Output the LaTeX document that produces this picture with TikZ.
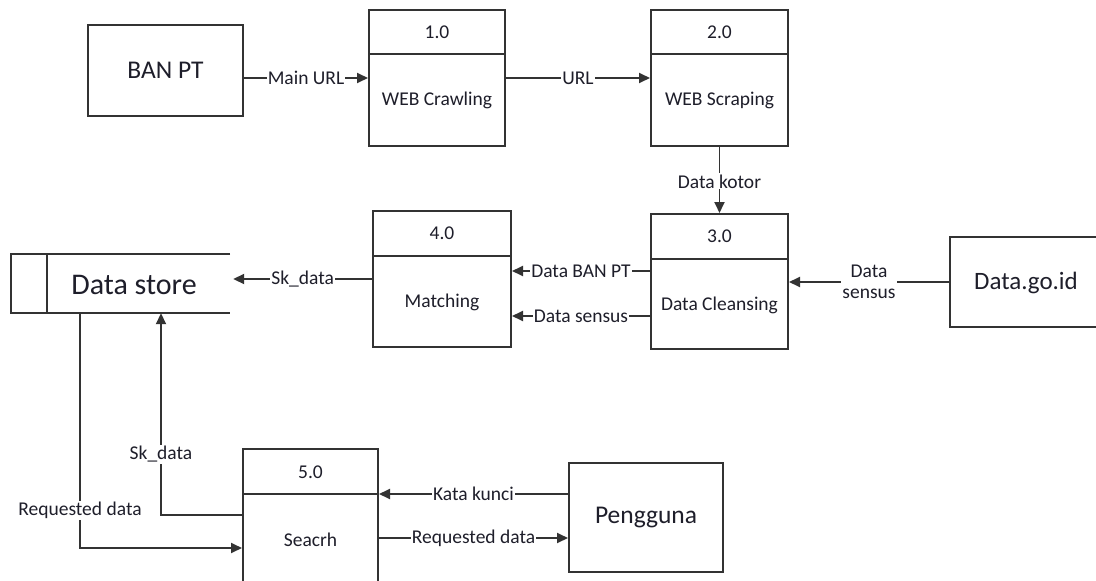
\documentclass[tikz,border=0pt]{standalone}
\usepackage{fontspec}
\setmainfont{Carlito}
\usetikzlibrary{arrows.meta}
\definecolor{ln}{HTML}{333333}
\definecolor{tx}{HTML}{1E1E2A}
\tikzset{
  box/.style={draw=ln, line width=2pt, rectangle, inner sep=0pt},
  ent/.style={box, font=\fontsize{25.5}{28}\selectfont},
  proc/.style={box},
  ptext/.style={text=tx, font=\fontsize{19.5}{22}\selectfont, inner sep=0pt},
  divl/.style={draw=ln, line width=2pt},
  flow/.style={draw=ln, line width=1.8pt, -{Triangle[length=11pt,width=10pt]}},
  lbl/.style={fill=white, text=tx, font=\fontsize{19.5}{20}\selectfont, inner sep=1pt},
}
\begin{document}
\begin{tikzpicture}[x=1pt,y=-1pt]
\useasboundingbox (0,0) rectangle (1096,581);
\clip (0,0) rectangle (1096,581);
\fill[white] (0,0) rectangle (1096,581);

% external entities
\node[ent, minimum width=155pt, minimum height=91pt, text=tx] (ban) at (165.5,70.5) {BAN PT};
\node[ent, minimum width=160pt, minimum height=90pt] (datago) at (1030,282) {};
\node[text=tx, font=\fontsize{25}{28}\selectfont, inner sep=0pt] (datagot) at (1026,283) {Data.go.id};
\node[ent, minimum width=154pt, minimum height=109pt, text=tx] (peng) at (646,517.5) {Pengguna};

% processes
\node[proc, minimum width=136pt, minimum height=136pt] (p1) at (437,78) {};
\draw[divl] (p1.west |- 0,54) -- (p1.east |- 0,54);
\node[ptext] (p1n) at (437,32) {1.0};
\node[ptext] (p1t) at (437,100) {WEB Crawling};

\node[proc, minimum width=137pt, minimum height=136pt] (p2) at (719.5,78) {};
\draw[divl] (p2.west |- 0,54) -- (p2.east |- 0,54);
\node[ptext] (p2n) at (719.5,32) {2.0};
\node[ptext] (p2t) at (719.5,100) {WEB Scraping};

\node[proc, minimum width=137pt, minimum height=135pt] (p3) at (719.5,281.5) {};
\draw[divl] (p3.west |- 0,259) -- (p3.east |- 0,259);
\node[ptext] (p3n) at (719.5,236) {3.0};
\node[ptext] (p3t) at (719.5,305) {Data Cleansing};

\node[proc, minimum width=138pt, minimum height=136pt] (p4) at (442,279) {};
\draw[divl] (p4.west |- 0,256) -- (p4.east |- 0,256);
\node[ptext] (p4n) at (442,233) {4.0};
\node[ptext] (p4t) at (442,302) {Matching};

\node[proc, minimum width=135pt, minimum height=151pt] (p5) at (310.5,524.5) {};
\draw[divl] (p5.west |- 0,494) -- (p5.east |- 0,494);
\node[ptext] (p5n) at (310.5,472) {5.0};
\node[ptext] (p5t) at (310.5,540) {Seacrh};

% data store
\node[minimum width=219pt, minimum height=59pt, inner sep=0pt] (ds) at (120.5,283.5) {};
\draw[ln, line width=1.8pt] (ds.north east) -- (ds.north west) -- (ds.south west) -- (ds.south east);
\draw[ln, line width=1.8pt] (47,254) -- (47,313);
\node[text=tx, font=\fontsize{30}{33}\selectfont, inner sep=0pt] (dst) at (134,285) {Data store};

% flows
\draw[flow] (ban.east |- p1.west) -- node[lbl]{Main URL} (p1.west);
\draw[flow] (p1.east) -- node[lbl]{URL} (p2.west);
\draw[flow] (p2.south) -- node[lbl, pos=0.52]{Data kotor} (p3.north);
\draw[flow] ([yshift=10.5pt]p3.west) -- node[lbl]{Data BAN PT} ([yshift=8pt]p4.east);
\draw[flow] ([yshift=-34.5pt]p3.west) -- node[lbl]{Data sensus} ([yshift=-37pt]p4.east);
\draw[flow] (datago.west) -- node[lbl, align=center, font=\fontsize{19.5}{21}\selectfont, pos=0.5]{Data\\sensus} (datago.west -| p3.east);
\draw[flow] (p4.west) -- node[lbl]{Sk\_data} ([xshift=3pt]p4.west -| ds.east);
\draw[flow] ([yshift=9.5pt]p5.west) -| node[lbl, pos=0.65]{Sk\_data} ([xshift=40.5pt]ds.south);
\draw[flow] ([xshift=-40.5pt]ds.south) |- node[lbl, pos=0.42]{Requested data} ([yshift=-23.5pt]p5.west);
\draw[flow] ([yshift=23.5pt]peng.west) -- node[lbl]{Kata kunci} ([yshift=23.5pt]peng.west -| p5.east);
\draw[flow] ([yshift=-20.5pt]peng.west -| p5.east) -- node[lbl]{Requested data} ([yshift=-20.5pt]peng.west);
\end{tikzpicture}
\end{document}
